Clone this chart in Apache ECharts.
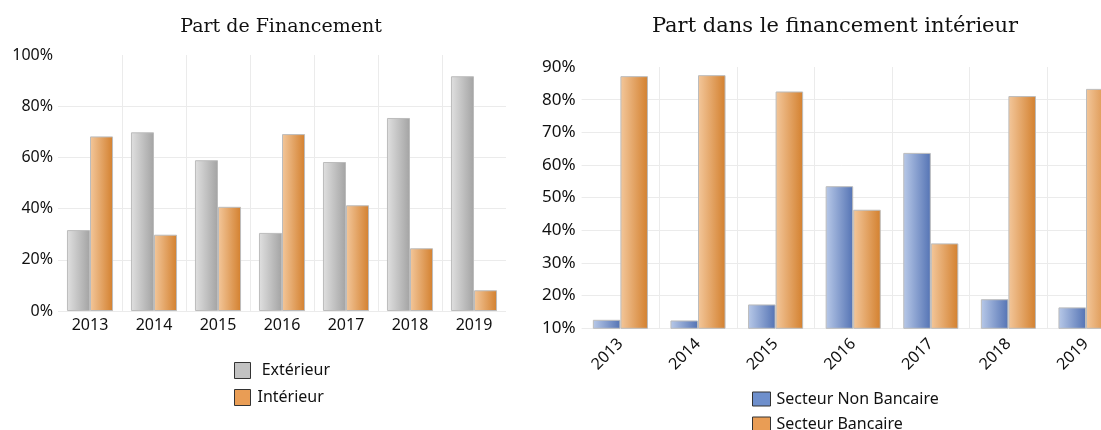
<!DOCTYPE html>
<html>
<head>
<meta charset="utf-8">
<script src="https://cdn.jsdelivr.net/npm/echarts@6/dist/echarts.min.js"></script>
<style>
html,body{margin:0;padding:0;background:#fff;}
#c{width:1101px;height:430px;}
</style>
</head>
<body>
<div id="c"></div>
<script>
// ---- data ----
const years = ['2013', '2014', '2015', '2016', '2017', '2018', '2019'];
const exterieur = [31.6, 69.8, 58.9, 30.5, 58.2, 75.4, 91.7];
const interieur = [68.2, 29.8, 40.7, 69.1, 41.3, 24.5, 8.1];
const nonBancaire = [12.6, 12.4, 17.3, 53.5, 63.7, 18.9, 16.4];
const bancaire = [87.2, 87.5, 82.5, 46.3, 36.0, 81.1, 83.3];
const titleLeft = 'Part de Financement';
const titleRight = 'Part dans le financement intérieur';

// ---- styles ----
function grad(a, b) {
  return {type: 'linear', x: 0, y: 0, x2: 1, y2: 0,
    colorStops: [{offset: 0, color: a}, {offset: 1, color: b}]};
}
const gray = grad('#e0e0e0', '#a3a3a3');
const orange = grad('#f3c79b', '#d3802e');
const blue = grad('#b8c9e8', '#5473b4');
const gridColor = '#ebebeb';
const labelFont = '"Noto Sans", "Open Sans", sans-serif';
const titleFont = '"DejaVu Serif", serif';

const chart = echarts.init(document.getElementById('c'), null, {renderer: 'canvas'});
const option = {
  animation: false,
  backgroundColor: '#ffffff',
  title: [
    {text: titleLeft, left: 281, top: 18, textAlign: 'center', padding: 0,
      textStyle: {fontFamily: titleFont, fontWeight: 'normal', fontSize: 19, color: '#111'}},
    {text: titleRight, left: 835, top: 16, textAlign: 'center', padding: 0,
      textStyle: {fontFamily: titleFont, fontWeight: 'normal', fontSize: 21, color: '#111'}}
  ],
  legend: [
    {orient: 'vertical', left: 234, top: 362, height: 60, itemWidth: 16, itemHeight: 16, itemGap: 10,
      padding: 0, icon: 'rect',
      formatter: function (n) { return n === 'Extérieur' ? ' ' + n : n; },
      textStyle: {fontFamily: labelFont, fontSize: 16, lineHeight: 16, color: '#111', padding: [0, 0, 0, 2]},
      data: [
        {name: 'Extérieur', itemStyle: {color: '#c2c2c2', borderColor: '#333', borderWidth: 1}},
        {name: 'Intérieur', itemStyle: {color: '#e99d55', borderColor: '#333', borderWidth: 1}}
      ]},
    {orient: 'vertical', left: 752, top: 391, height: 60, itemWidth: 18, itemHeight: 14, itemGap: 9,
      padding: 0, icon: 'rect',
      textStyle: {fontFamily: labelFont, fontSize: 16, lineHeight: 14, color: '#111', padding: [0, 0, 0, 1]},
      data: [
        {name: 'Secteur Non Bancaire', itemStyle: {color: '#6e8fcc', borderColor: '#333', borderWidth: 1}},
        {name: 'Secteur Bancaire', itemStyle: {color: '#e99d55', borderColor: '#333', borderWidth: 1}}
      ]}
  ],
  grid: [
    {left: 58, top: 55, width: 448, height: 256, containLabel: false, outerBoundsMode: 'none'},
    {left: 581.6, top: 67, width: 543.2, height: 261.3, containLabel: false, outerBoundsMode: 'none'}
  ],
  xAxis: [
    {type: 'category', gridIndex: 0, data: years,
      axisLine: {show: false}, axisTick: {show: false},
      axisLabel: {fontFamily: labelFont, fontSize: 16, color: '#111', margin: 6},
      splitLine: {show: true, showMinLine: false, showMaxLine: false, lineStyle: {color: gridColor, width: 1}}},
    {type: 'category', gridIndex: 1, data: years,
      axisLine: {show: false}, axisTick: {show: false},
      axisLabel: {fontFamily: labelFont, fontSize: 16, color: '#111', margin: 13, rotate: 45},
      splitLine: {show: true, showMinLine: false, showMaxLine: false, lineStyle: {color: gridColor, width: 1}}}
  ],
  yAxis: [
    {type: 'value', gridIndex: 0, min: 0, max: 100, interval: 20,
      axisLine: {show: false}, axisTick: {show: false},
      axisLabel: {formatter: '{value}%', fontFamily: labelFont, fontSize: 16, color: '#111', margin: 5},
      splitLine: {show: true, showMaxLine: false, lineStyle: {color: gridColor, width: 1}}},
    {type: 'value', gridIndex: 1, min: 10, max: 90, interval: 10,
      axisLine: {show: false}, axisTick: {show: false},
      axisLabel: {formatter: '{value}%', fontFamily: labelFont, fontSize: 17, color: '#111', margin: 6},
      splitLine: {show: true, showMaxLine: false, lineStyle: {color: gridColor, width: 1}}}
  ],
  series: [
    {name: 'Extérieur', type: 'bar', xAxisIndex: 0, yAxisIndex: 0, data: exterieur,
      barGap: '0%', barCategoryGap: '28%',
      itemStyle: {color: gray, borderColor: '#bcbcbc', borderWidth: 1}},
    {name: 'Intérieur', type: 'bar', xAxisIndex: 0, yAxisIndex: 0, data: interieur,
      barGap: '0%', barCategoryGap: '28%',
      itemStyle: {color: orange, borderColor: '#bcbcbc', borderWidth: 1}},
    {name: 'Secteur Non Bancaire', type: 'bar', xAxisIndex: 1, yAxisIndex: 1, data: nonBancaire,
      barGap: '0%', barCategoryGap: '29%',
      itemStyle: {color: blue, borderColor: '#bcbcbc', borderWidth: 1}},
    {name: 'Secteur Bancaire', type: 'bar', xAxisIndex: 1, yAxisIndex: 1, data: bancaire,
      barGap: '0%', barCategoryGap: '29%',
      itemStyle: {color: orange, borderColor: '#bcbcbc', borderWidth: 1}}
  ]
};
chart.setOption(option);
</script>
</body>
</html>
